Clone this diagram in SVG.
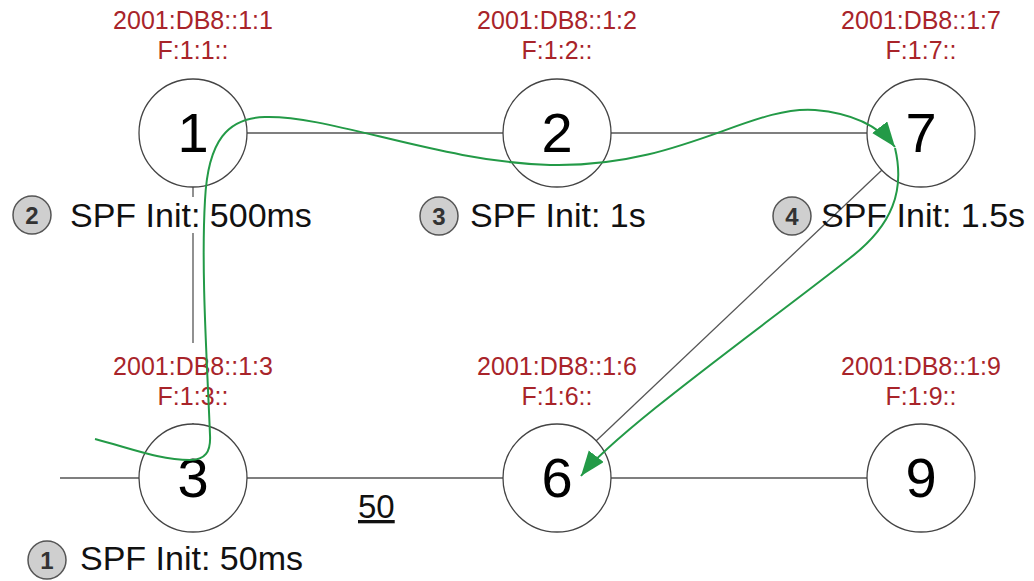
<svg xmlns="http://www.w3.org/2000/svg" width="1034" height="581" viewBox="0 0 1034 581">
<style>
.link{stroke:#555;stroke-width:1.3;fill:none}
.node circle{fill:#fff;stroke:#444;stroke-width:1.3}
.num{font-family:"Liberation Sans",Arial,sans-serif;font-size:56px;fill:#000;text-anchor:middle}
.addr{font-family:"Liberation Sans",Arial,sans-serif;font-size:25px;fill:#a8242a;text-anchor:middle}
.spf{font-family:"Liberation Sans",Arial,sans-serif;font-size:34px;fill:#111}
.badge circle{fill:#cfcfcf;stroke:#555;stroke-width:1.5}
.badge text{font-family:"Liberation Sans",Arial,sans-serif;font-size:24px;font-weight:bold;fill:#333;text-anchor:middle}
.cost{font-family:"Liberation Sans",Arial,sans-serif;font-size:33px;fill:#111;text-decoration:underline}
.green{stroke:#239a47;stroke-width:2;fill:none;marker-end:url(#arrow)}
.bg{fill:#fff}
</style>
<defs>
<marker id="arrow" markerUnits="userSpaceOnUse" markerWidth="26" markerHeight="20" refX="25" refY="9.5" orient="auto">
<path d="M0,0 L25,9.5 L0,19 z" fill="#239a47"/>
</marker>
</defs>
<g id="connectors">
<line class="link" x1="247" y1="133" x2="504" y2="133"/>
<line class="link" x1="611" y1="133" x2="867" y2="133"/>
<line class="link" x1="193" y1="186" x2="193" y2="425"/>
<line class="link" x1="882" y1="170" x2="596" y2="441"/>
<line class="link" x1="247" y1="478" x2="504" y2="478"/>
<line class="link" x1="611" y1="478" x2="867" y2="478"/>
<line class="link" x1="60" y1="478" x2="139" y2="478"/>
</g>
<g id="node1" class="node">
<circle cx="193" cy="133" r="54"/>
<text class="num" x="193" y="152">1</text>
<text class="addr" x="193" y="29">2001:DB8::1:1</text>
<text class="addr" x="193" y="59">F:1:1::</text>
</g>
<g id="node2" class="node">
<circle cx="557" cy="133" r="54"/>
<text class="num" x="557" y="152">2</text>
<text class="addr" x="557" y="29">2001:DB8::1:2</text>
<text class="addr" x="557" y="59">F:1:2::</text>
</g>
<g id="node7" class="node">
<circle cx="921" cy="133" r="54"/>
<text class="num" x="921" y="152">7</text>
<text class="addr" x="921" y="29">2001:DB8::1:7</text>
<text class="addr" x="921" y="59">F:1:7::</text>
</g>
<g id="node3" class="node">
<rect class="bg" x="150" y="343" width="86" height="80"/>
<circle cx="193" cy="478" r="54"/>
<text class="num" x="193" y="497">3</text>
<text class="addr" x="193" y="375">2001:DB8::1:3</text>
<text class="addr" x="193" y="405">F:1:3::</text>
</g>
<g id="node6" class="node">
<circle cx="557" cy="478" r="54"/>
<text class="num" x="557" y="497">6</text>
<text class="addr" x="557" y="375">2001:DB8::1:6</text>
<text class="addr" x="557" y="405">F:1:6::</text>
</g>
<g id="node9" class="node">
<circle cx="921" cy="478" r="54"/>
<text class="num" x="921" y="497">9</text>
<text class="addr" x="921" y="375">2001:DB8::1:9</text>
<text class="addr" x="921" y="405">F:1:9::</text>
</g>
<g id="label-spf2">
<rect class="bg" x="180" y="197" width="30" height="36"/>
<g class="badge"><circle cx="32" cy="215" r="19"/><text x="32" y="224">2</text></g>
<text class="spf" x="70" y="227">SPF Init: 500ms</text>
</g>
<g id="label-spf3">
<g class="badge"><circle cx="439" cy="216" r="19"/><text x="439" y="225">3</text></g>
<text class="spf" x="470" y="227">SPF Init: 1s</text>
</g>
<g id="label-spf4">
<g class="badge"><circle cx="792" cy="216" r="19"/><text x="792" y="225">4</text></g>
<text class="spf" x="821" y="227">SPF Init: 1.5s</text>
</g>
<g id="label-spf1">
<g class="badge"><circle cx="47" cy="560" r="19"/><text x="47" y="569">1</text></g>
<text class="spf" x="80" y="570">SPF Init: 50ms</text>
</g>
<text id="cost" class="cost" x="358" y="518">50</text>
<g id="spf-path">
<path class="green" d="M95,439 C130,448 160,460 190,460 C205,460 211,452 210,435 C207,360 201,270 205,200 C208,140 228,118 265,117 C330,115 440,162 550,165 C680,168 750,105 815,110 C850,113 878,125 895,147"/>
<path class="green" d="M895,148 C905,190 893,225 850,258 C765,325 615,432 581,476"/>
</g>
</svg>
